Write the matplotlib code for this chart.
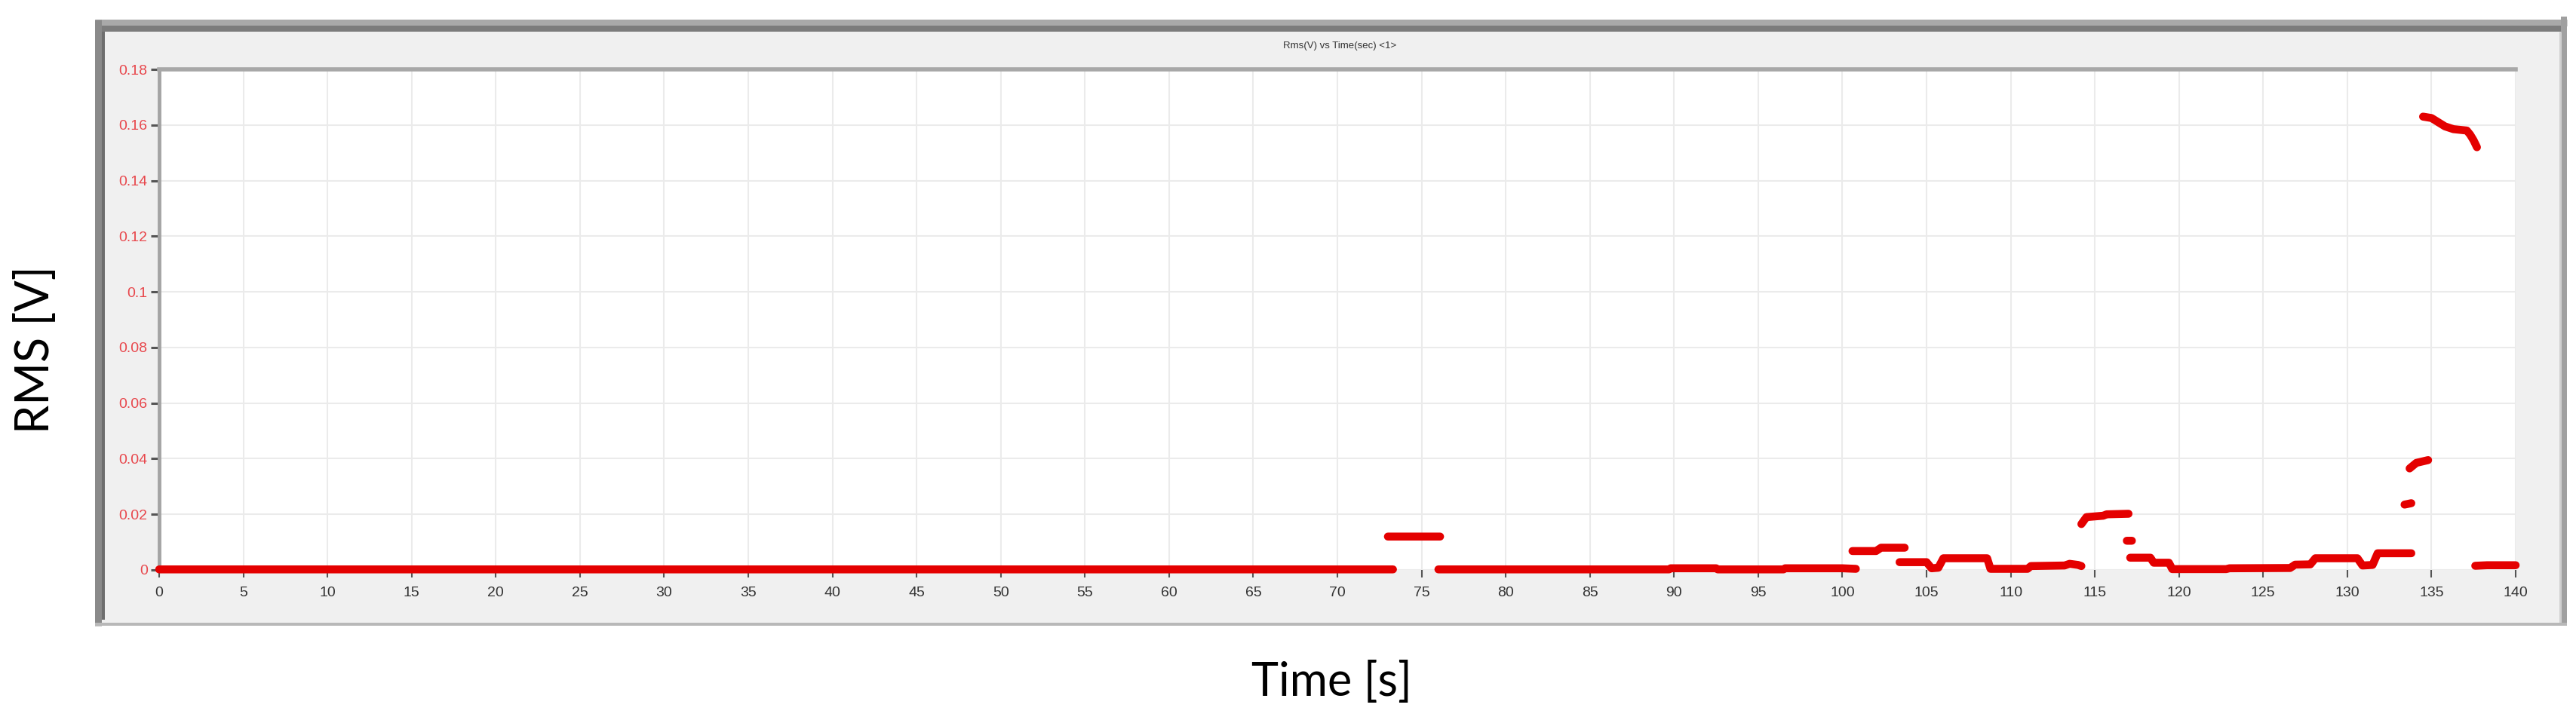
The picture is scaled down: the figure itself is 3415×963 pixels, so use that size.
import numpy as np
import matplotlib.pyplot as plt
from matplotlib import font_manager
from matplotlib.lines import Line2D
from matplotlib.patches import Rectangle

# data, NaN = gap between pieces
time_s = [0, 73.3, np.nan,
          73.0, 76.1, np.nan,
          76.0, 89.7, 89.8, 92.5, 92.6, 96.5, 96.6, 100.0, 100.8, np.nan,
          100.6, 102.0, 102.3, 103.7, np.nan,
          103.4, 105.0, 105.3, 105.7, 106.0, 108.6, 108.8, 111.0, 111.2, 113.2, 113.5, 114.0, 114.2, np.nan,
          114.2, 114.5, 115.5, 115.7, 117.0, np.nan,
          116.9, 117.2, np.nan,
          117.1, 118.3, 118.5, 119.4, 119.6, 122.8, 123.0, 126.6, 126.9, 127.8, 128.1, 130.6, 130.9, 131.5, 131.8, 133.8, np.nan,
          133.4, 133.8, np.nan,
          133.7, 134.1, 134.8, np.nan,
          134.5, 135.0, 135.4, 135.8, 136.3, 137.1, 137.3, 137.5, 137.7, np.nan,
          137.6, 138.3, 140.0]
rms_v = [0.0002, 0.0002, np.nan,
         0.012, 0.012, np.nan,
         0.0002, 0.0002, 0.0006, 0.0006, 0.0002, 0.0002, 0.0006, 0.0006, 0.0004, np.nan,
         0.0068, 0.0068, 0.008, 0.008, np.nan,
         0.0028, 0.0028, 0.0006, 0.0008, 0.0042, 0.0042, 0.0004, 0.0004, 0.0014, 0.0016, 0.0022, 0.0018, 0.0014, np.nan,
         0.0165, 0.019, 0.0195, 0.020, 0.0202, np.nan,
         0.0105, 0.0105, np.nan,
         0.0044, 0.0044, 0.0026, 0.0026, 0.0003, 0.0003, 0.0006, 0.0007, 0.0019, 0.002, 0.0042, 0.0042, 0.0016, 0.0018, 0.006, 0.006, np.nan,
         0.0235, 0.024, np.nan,
         0.0365, 0.0385, 0.0395, np.nan,
         0.163, 0.1625, 0.161, 0.1595, 0.1585, 0.158, 0.1565, 0.1545, 0.152, np.nan,
         0.0015, 0.0017, 0.0017]

x_ticks = list(range(0, 141, 5))
y_ticks = [0, 0.02, 0.04, 0.06, 0.08, 0.1, 0.12, 0.14, 0.16, 0.18]
y_tick_labels = ['0', '0.02', '0.04', '0.06', '0.08', '0.1', '0.12', '0.14', '0.16', '0.18']

W, H = 3416, 963
fig = plt.figure(figsize=(W / 100, H / 100), dpi=100)

def fx(px):
    return px / W

def fy(py):
    return 1 - py / H

names = {f.name for f in font_manager.fontManager.ttflist}
tick_font = 'Liberation Sans Narrow' if 'Liberation Sans Narrow' in names else 'Liberation Sans'

# grey instrument panel with bevelled frame
fig.patches.append(Rectangle((fx(126), fy(830)), fx(3403) - fx(126), fy(26) - fy(830),
                             transform=fig.transFigure, facecolor='#f0f0f0', edgecolor='none', zorder=0))
def frame_line(x0, y0, x1, y1, lw, color):
    fig.add_artist(Line2D([fx(x0), fx(x1)], [fy(y0), fy(y1)], transform=fig.transFigure,
                          lw=lw * 0.72, color=color, solid_capstyle='butt', zorder=1))
frame_line(126, 30, 3403, 30, 9, '#a9a9a9')
frame_line(126, 38, 3395, 38, 8, '#7c7c7c')
frame_line(130, 26, 130, 830, 9, '#8a8a8a')
frame_line(137, 42, 137, 822, 4, '#6e6e6e')
frame_line(3399, 22, 3399, 830, 8, '#a0a0a0')
frame_line(3394, 42, 3394, 826, 3, '#d0d0d0')
frame_line(126, 828, 3403, 828, 4, '#b8b8b8')

ax = fig.add_axes([fx(211), fy(756), fx(3335) - fx(211), fy(92) - fy(756)])
ax.set_zorder(3)
ax.set_facecolor('white')
ax.plot(time_s, rms_v, color='#e40000', lw=7.6, solid_capstyle='round',
        solid_joinstyle='round', clip_on=False, zorder=5)

ax.set_xlim(0, 140)
ax.set_ylim(0, 0.18)
ax.set_xticks(x_ticks)
ax.set_xticklabels([str(t) for t in x_ticks])
ax.set_yticks(y_ticks)
ax.set_yticklabels(y_tick_labels)
ax.grid(True, color='#ebebeb', lw=1.5)
ax.set_axisbelow(True)

for side in ['right', 'bottom']:
    ax.spines[side].set_visible(False)
ax.spines['left'].set_color('#a4a4a4')
ax.spines['left'].set_linewidth(3.5)
ax.spines['top'].set_color('#a8a8a8')
ax.spines['top'].set_linewidth(4)

ax.tick_params(axis='y', length=8, width=2.2, color='#555555', pad=3,
               labelsize=14, labelcolor='#e8474c')
ax.tick_params(axis='x', length=7, width=1.5, color='#555555', pad=9,
               labelsize=14, labelcolor='#333333')
for lab in ax.get_xticklabels() + ax.get_yticklabels():
    lab.set_family(tick_font)

fig.text(fx(1776), fy(61), 'Rms(V) vs Time(sec) <1>', ha='center', va='center',
         fontsize=9.5, color='#333333', family=tick_font, zorder=4)
fig.text(fx(48), fy(464), 'RMS [V]', rotation=90, ha='center', va='center',
         fontsize=44, color='black', family='Lato')
fig.text(fx(1765), fy(905), 'Time [s]', ha='center', va='center',
         fontsize=44, color='black', family='Lato')

fig.savefig('out.png', dpi=100, facecolor='white')
